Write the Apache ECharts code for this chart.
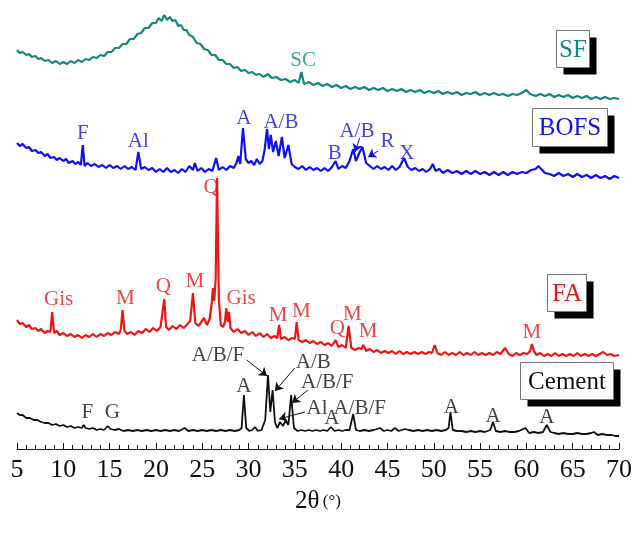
<!DOCTYPE html>
<html>
<head>
<meta charset="utf-8">
<script src="https://cdn.jsdelivr.net/npm/echarts@6/dist/echarts.min.js"></script>
<style>
  html, body { margin: 0; padding: 0; background: #fff; }
  #main { width: 643px; height: 536px; }
</style>
</head>
<body>
<div id="main"></div>
<script>
// 2theta ticks
var xTicks = [5, 70, 5];

// intensities (offset, a.u.)
var sf = [[5,399],[5.3,396],[5.6,397],[6,394],[6.3,395],[6.6,392],[7,393],[7.3,390],[7.6,391],[8,388],[8.4,389],[8.8,386],[9.2,388],[9.6,385],[10,387],[10.4,385],[10.8,388],[11.2,386],[11.6,389],[12,387],[12.4,390],[12.8,389],[13.2,392],[13.6,391],[14,394],[14.4,393],[14.8,397],[15.2,397],[15.6,401],[16,401],[16.4,405],[16.8,405],[17.2,410],[17.6,410],[18,415],[18.4,416],[18.8,421],[19.2,421],[19.6,426],[20,426],[20.3,431],[20.6,428],[20.9,434],[21.2,429],[21.5,432],[21.8,428],[22.1,429],[22.4,423],[22.7,424],[23,419],[23.3,419],[23.6,414],[24,412],[24.4,406],[24.8,405],[25.2,400],[25.6,399],[26,394],[26.4,394],[26.8,389],[27.2,389],[27.6,385],[28,385],[28.4,381],[28.8,382],[29.2,378],[29.6,379],[30,376],[30.4,377],[30.8,374],[31.2,375],[31.6,372],[32.1,375],[32.5,371],[33,372],[33.5,369],[34,370],[34.5,367],[35,369],[35.4,366],[35.7,377],[36,365],[36.5,367],[37,364],[37.5,366],[38,363],[38.5,365],[39,362],[39.5,364],[40,361],[40.5,363],[41,360],[41.5,362],[42,360],[42.5,362],[43,359],[43.5,361],[44,359],[44.5,361],[45,358],[45.5,360],[46,358],[46.5,360],[47,357],[47.5,359],[48,357],[48.5,359],[49,356],[49.5,358],[50,356],[50.5,358],[51,355],[51.5,357],[52,355],[52.5,357],[53,354],[53.5,356],[54,355],[54.5,357],[55,354],[55.5,356],[56,354],[56.5,356],[57,354],[57.5,355],[58,353],[58.5,355],[59,354],[59.5,356],[60,359],[60.4,355],[61,353],[61.5,355],[62,353],[62.5,355],[63,352],[63.5,354],[64,352],[64.5,354],[65,351],[65.5,353],[66,351],[66.5,353],[67,350],[67.5,352],[68,350],[68.5,352],[69,350],[69.5,351],[70,350]];

var bofs = [[5,306],[5.3,303],[5.6,305],[6,301],[6.3,302],[6.6,298],[7,299],[7.3,296],[7.6,297],[8,293],[8.3,295],[8.6,291],[9,292],[9.3,289],[9.6,291],[10,288],[10.3,290],[10.6,286],[11,288],[11.3,285],[11.6,287],[11.9,284],[12.1,304],[12.3,283],[12.6,286],[13,283],[13.4,285],[13.8,282],[14.2,284],[14.6,281],[15,284],[15.4,281],[15.8,283],[16.2,280],[16.6,283],[17,280],[17.4,282],[17.8,279],[18.1,297],[18.4,280],[18.8,282],[19.2,279],[19.6,281],[20,277],[20.4,280],[20.8,277],[21.2,281],[21.6,277],[22,279],[22.4,276],[22.8,280],[23.2,277],[23.6,283],[24,279],[24.2,286],[24.5,278],[24.9,281],[25.3,277],[25.7,280],[26.1,278],[26.5,291],[26.8,279],[27.2,282],[27.6,279],[28,283],[28.4,281],[28.7,286],[28.9,293],[29.1,285],[29.4,321],[29.7,290],[30,286],[30.3,288],[30.6,284],[30.9,290],[31.2,285],[31.5,288],[31.75,300],[32,320],[32.2,300],[32.4,314],[32.65,297],[32.95,308],[33.25,293],[33.6,312],[33.9,291],[34.3,304],[34.65,285],[35,282],[35.4,280],[35.8,283],[36.2,279],[36.6,282],[37,279],[37.4,281],[37.8,278],[38.2,281],[38.6,278],[39,282],[39.4,288],[39.7,280],[40.1,283],[40.5,281],[40.9,288],[41.3,300],[41.6,288],[42,297],[42.3,302],[42.7,286],[43.1,283],[43.5,280],[43.9,283],[44.3,280],[44.7,282],[45.1,279],[45.5,283],[45.9,279],[46.3,282],[46.8,291],[47.2,282],[47.6,279],[48,281],[48.4,278],[48.8,280],[49.2,277],[49.6,280],[49.9,285],[50.2,278],[50.6,280],[51,276],[51.5,279],[52,276],[52.5,278],[53,275],[53.5,278],[54,275],[54.5,278],[55,275],[55.5,277],[56,274],[56.5,277],[57,274],[57.5,277],[58,274],[58.5,277],[59,275],[59.5,277],[60,276],[60.5,279],[61,280],[61.3,283],[61.7,279],[62,276],[62.5,275],[63,273],[63.5,276],[64,273],[64.5,275],[65,272],[65.5,275],[66,272],[66.5,274],[67,271],[67.5,274],[68,271],[68.5,273],[69,270],[69.5,273],[70,271]];

var fa = [[5,129],[5.3,125],[5.6,126],[6,122],[6.3,124],[6.6,120],[7,121],[7.3,118],[7.6,120],[8,116],[8.3,118],[8.6,117],[8.8,137],[9,116],[9.3,118],[9.6,114],[10,116],[10.4,113],[10.8,115],[11.2,112],[11.6,114],[12,111],[12.4,114],[12.8,112],[13.2,115],[13.6,112],[14,115],[14.4,113],[14.8,116],[15.2,114],[15.6,117],[16,115],[16.2,119],[16.4,139],[16.6,118],[16.9,115],[17.3,117],[17.7,114],[18.1,118],[18.5,116],[18.9,120],[19.3,117],[19.7,121],[20.1,118],[20.5,122],[20.7,121],[20.9,150],[21.1,122],[21.4,119],[21.8,123],[22.2,120],[22.6,124],[23,121],[23.4,125],[23.7,128],[24,156],[24.25,126],[24.6,123],[24.9,127],[25.2,131],[25.5,124],[25.8,130],[26,144],[26.15,161],[26.3,148],[26.45,170],[26.6,271],[26.8,150],[27,124],[27.25,122],[27.45,127],[27.6,141],[27.75,127],[27.9,137],[28.05,121],[28.4,117],[28.8,120],[29.2,116],[29.6,118],[30,114],[30.4,117],[30.8,113],[31.2,116],[31.6,112],[32,115],[32.4,111],[32.8,113],[33.1,111],[33.3,124],[33.5,110],[33.9,112],[34.3,109],[34.7,111],[35,110],[35.2,127],[35.4,109],[35.8,107],[36.2,109],[36.6,106],[37,108],[37.4,105],[37.8,107],[38.2,104],[38.6,106],[39,103],[39.4,109],[39.7,102],[40.1,104],[40.5,101],[40.8,123],[41.1,101],[41.5,99],[41.9,101],[42.2,100],[42.4,104],[42.7,98],[43.1,100],[43.5,97],[43.9,99],[44.3,96],[44.7,98],[45.1,96],[45.5,98],[45.9,95],[46.3,98],[46.7,95],[47.1,97],[47.5,95],[47.9,97],[48.3,95],[48.7,97],[49.1,95],[49.5,97],[49.8,96],[50.1,104],[50.4,96],[50.8,94],[51.2,97],[51.6,94],[52,96],[52.4,94],[52.8,97],[53.2,94],[53.6,96],[54,94],[54.4,97],[54.8,94],[55.2,96],[55.6,94],[56,96],[56.4,94],[56.8,97],[57.2,95],[57.7,101],[58.1,95],[58.5,93],[58.9,96],[59.3,94],[59.7,96],[60.1,95],[60.4,98],[60.6,105],[60.8,98],[61.1,94],[61.5,96],[61.9,93],[62.3,95],[62.7,93],[63.1,96],[63.5,93],[63.9,95],[64.3,93],[64.7,95],[65.1,93],[65.5,96],[65.9,93],[66.3,95],[66.7,93],[67.1,95],[67.5,93],[67.9,95],[68.3,97],[68.7,94],[69.1,95],[69.5,93],[70,94]];

var cement = [[5,36],[5.3,34],[5.6,34],[6,31],[6.4,31],[6.8,29],[7.2,29],[7.6,27],[8,26],[8.4,26],[8.8,24],[9.2,25],[9.6,23],[10,24],[10.4,22],[10.8,23],[11.2,21],[11.6,22],[12,21],[12.2,24],[12.4,21],[12.8,20],[13.2,21],[13.6,19],[14,20],[14.4,19],[14.8,23],[15.1,20],[15.5,19],[16,20],[16.5,18],[17,19],[17.5,18],[18,19],[18.5,18],[19,19],[19.5,18],[20,19],[20.5,18],[21,19],[21.5,18],[22,19],[22.5,18],[23.1,21],[23.5,18],[24,19],[24.5,18],[25,19],[25.5,18],[26,19],[26.5,18],[27,19],[27.5,18],[28,19],[28.5,18],[29,19],[29.25,21],[29.5,54],[29.75,21],[30.1,18],[30.4,19],[30.7,22],[31,18],[31.4,19],[31.8,29],[32.1,74],[32.35,37],[32.6,59],[32.85,27],[33.1,21],[33.4,27],[33.7,23],[34,28],[34.3,24],[34.6,54],[34.9,21],[35.3,18],[35.7,19],[36.1,18],[36.5,19],[36.9,18],[37.3,19],[37.7,18],[38.1,19],[38.5,18],[38.9,22],[39.3,18],[39.7,19],[40.1,18],[40.5,19],[40.9,19],[41.3,35],[41.6,19],[42,18],[42.5,19],[43,18],[43.5,19],[44.2,21],[44.6,18],[45,19],[45.4,18],[45.8,21],[46.2,18],[46.9,20],[47.3,19],[47.8,18],[48.3,19],[48.8,18],[49.3,19],[49.8,18],[50.3,19],[50.8,18],[51.3,19],[51.6,21],[51.8,37],[52.05,19],[52.5,18],[53,18],[53.5,17],[54,18],[54.5,17],[55,18],[55.5,17],[56.1,19],[56.4,27],[56.7,18],[57.2,17],[57.7,18],[58.2,17],[58.7,17],[59.2,18],[59.9,21],[60.3,16],[60.8,17],[61.3,16],[61.8,17],[62.2,24],[62.6,17],[63,16],[63.5,15],[64,16],[64.5,15],[65,15],[65.5,16],[66,15],[66.5,15],[67,16],[67.3,17],[67.7,14],[68.2,15],[68.7,14],[69.2,14],[69.6,13],[70,13]];

// phase labels [text, 2theta, intensity]
var sfLabels = [['SC', 35.9, 389]];
var bofsLabels = [['F', 12.1, 316], ['Al', 18.1, 308], ['A', 29.5, 331], ['A/B', 33.5, 327],
    ['B', 39.3, 296], ['A/B', 41.7, 318], ['R', 45.0, 308], ['X', 47.1, 296]];
var faLabels = [['Gis', 9.5, 150], ['M', 16.7, 151], ['Q', 20.8, 163], ['M', 24.2, 168],
    ['Q', 25.95, 262], ['Gis', 29.2, 151], ['M', 33.2, 134], ['M', 35.7, 138],
    ['Q', 39.6, 121], ['M', 41.2, 135], ['M', 42.9, 118], ['M', 60.6, 117]];
var cementLabels = [['F', 12.6, 37], ['G', 15.3, 37], ['A', 29.5, 63], ['A/B/F', 26.7, 94],
    ['A/B', 37.0, 87], ['A/B/F', 38.5, 67], ['Al', 37.4, 41], ['A', 39.0, 31],
    ['A/B/F', 42.0, 41], ['A', 51.9, 42], ['A', 56.4, 33], ['A', 62.2, 32]];

// pointer arrows [from, to]
var bofsArrows = [[[42.0, 311], [41.5, 297]], [[44.0, 298], [42.9, 292]]];
var cementArrows = [[[29.8, 89], [32.0, 73]], [[35.0, 81], [32.85, 58]],
    [[36.4, 59], [34.7, 46]], [[36.1, 37], [33.3, 30]]];

var names = ['SF', 'BOFS', 'FA', 'Cement'];
var colors = ['#15877d', '#1010f0', '#f01414', '#111111'];

var echart = echarts.init(document.getElementById('main'));
var serif = 'Liberation Serif';

function labelSeries(list, color) {
    return {
        type: 'scatter',
        symbolSize: 0,
        silent: true,
        data: list.map(function (d) {
            return { value: [d[1], d[2]], name: d[0] };
        }),
        label: {
            show: true,
            position: 'inside',
            formatter: '{b}',
            color: color,
            fontFamily: serif,
            fontSize: 21
        },
        z: 5
    };
}

function arrowSeries(list, color) {
    return {
        type: 'lines',
        coordinateSystem: 'cartesian2d',
        silent: true,
        symbol: ['none', 'arrow'],
        symbolSize: 8,
        lineStyle: { color: color, width: 1, opacity: 1 },
        data: list.map(function (a) { return { coords: a }; }),
        z: 6
    };
}

function legendBox(text, color, left, top, w, h) {
    return {
        type: 'group',
        left: left,
        top: top,
        children: [
            { type: 'rect', shape: { x: 7, y: 7, width: w, height: h }, style: { fill: '#000' } },
            { type: 'rect', shape: { x: 0, y: 0, width: w, height: h }, style: { fill: '#fff', stroke: '#777', lineWidth: 1 } },
            { type: 'text', x: w / 2, y: h / 2 + 1, style: { text: text, fill: color, font: '25px "Liberation Serif"', align: 'center', verticalAlign: 'middle' } }
        ]
    };
}

var lineData = [sf, bofs, fa, cement];
var series = lineData.map(function (d, i) {
    return {
        name: names[i],
        type: 'line',
        data: d,
        showSymbol: false,
        symbol: 'none',
        lineStyle: { color: colors[i], width: i === 3 ? 1.8 : 2.2 },
        z: 3
    };
});
series.push(labelSeries(sfLabels, colors[0]));
series.push(labelSeries(bofsLabels, colors[1]));
series.push(labelSeries(faLabels, colors[2]));
series.push(labelSeries(cementLabels, colors[3]));
series.push(arrowSeries(bofsArrows, colors[1]));
series.push(arrowSeries(cementArrows, colors[3]));

var option = {
    animation: false,
    grid: { left: 17, right: 24, top: 9, bottom: 87 },
    xAxis: {
        type: 'value',
        min: xTicks[0],
        max: xTicks[1],
        interval: xTicks[2],
        name: '{a|2θ} {b|(°)}',
        nameLocation: 'middle',
        nameGap: 40,
        nameTextStyle: {
            rich: {
                a: { fontFamily: serif, fontSize: 25, color: '#111' },
                b: { fontFamily: serif, fontSize: 17, color: '#111' }
            }
        },
        axisLine: { lineStyle: { color: '#111', width: 1 } },
        axisTick: { inside: true, length: 6, lineStyle: { color: '#111' } },
        minorTick: { show: true, splitNumber: 5, length: 4, lineStyle: { color: '#111' } },
        axisLabel: { fontFamily: serif, fontSize: 26, color: '#111', margin: 8 },
        splitLine: { show: false }
    },
    yAxis: {
        type: 'value',
        min: 0,
        max: 440,
        show: false
    },
    graphic: [
        legendBox('SF', colors[0], 556, 30, 33, 37),
        legendBox('BOFS', colors[1], 532, 108, 75, 38),
        legendBox('FA', colors[2], 547, 274, 39, 37),
        legendBox('Cement', colors[3], 520, 362, 93, 37)
    ],
    series: series
};
echart.setOption(option);
</script>
</body>
</html>
